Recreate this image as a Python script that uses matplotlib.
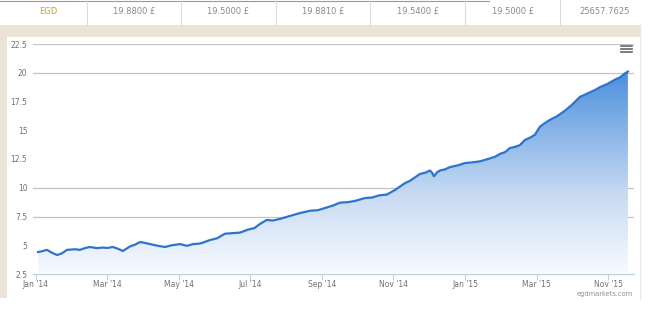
import numpy as np
import matplotlib
matplotlib.use("Agg")
import matplotlib.pyplot as plt
from matplotlib.patches import Rectangle, Polygon
from matplotlib.lines import Line2D
from matplotlib.colors import LinearSegmentedColormap

# ---------------- data ----------------
# x position in months since 1 Jan 2014
months = [0.07, 0.21, 0.32, 0.46, 0.60, 0.74, 0.88, 1.10, 1.24, 1.38, 1.52, 1.72,
          1.89, 2.00, 2.16, 2.30, 2.44, 2.64, 2.78, 2.92, 3.06, 3.20, 3.42, 3.62,
          3.81, 4.04, 4.23, 4.40, 4.60, 4.74, 4.87, 5.07, 5.29, 5.49, 5.71, 5.93,
          6.12, 6.27, 6.46, 6.63, 6.84, 7.11, 7.39, 7.67, 7.89, 8.09, 8.31, 8.50,
          8.73, 8.92, 9.20, 9.40, 9.62, 9.81, 10.04, 10.18, 10.32, 10.46, 10.60,
          10.74, 10.88, 11.02, 11.08, 11.13, 11.22, 11.30, 11.44, 11.58, 11.80,
          12.00, 12.19, 12.42, 12.64, 12.84, 12.98, 13.12, 13.25, 13.39, 13.53,
          13.67, 13.81, 13.95, 14.09, 14.22, 14.37, 14.56, 14.79, 14.98, 15.21,
          15.35, 15.49, 15.63, 15.77, 15.96, 16.19, 16.33, 16.47, 16.55]
prices = [4.41, 4.50, 4.60, 4.35, 4.15, 4.30, 4.60, 4.65, 4.60, 4.75, 4.85, 4.75,
          4.80, 4.76, 4.85, 4.70, 4.50, 4.90, 5.05, 5.28, 5.20, 5.10, 4.95, 4.85,
          5.00, 5.10, 4.95, 5.10, 5.15, 5.30, 5.45, 5.60, 6.00, 6.05, 6.10, 6.35,
          6.50, 6.85, 7.20, 7.15, 7.30, 7.55, 7.80, 8.00, 8.05, 8.24, 8.45, 8.70,
          8.75, 8.85, 9.10, 9.15, 9.35, 9.40, 9.80, 10.10, 10.40, 10.60, 10.90,
          11.20, 11.30, 11.50, 11.30, 11.00, 11.35, 11.50, 11.60, 11.80, 11.95,
          12.15, 12.20, 12.30, 12.50, 12.70, 12.95, 13.10, 13.45, 13.55, 13.70,
          14.15, 14.35, 14.60, 15.30, 15.60, 15.90, 16.20, 16.70, 17.20, 17.90,
          18.10, 18.30, 18.50, 18.75, 19.00, 19.40, 19.60, 19.95, 20.10]

x_tick_pos = [0, 2, 4, 6, 8, 10, 12, 14, 16]
x_tick_labels = ["Jan '14", "Mar '14", "May '14", "Jul '14", "Sep '14",
                 "Nov '14", "Jan '15", "Mar '15", "Nov '15"]
y_ticks = [2.5, 5, 7.5, 10, 12.5, 15, 17.5, 20, 22.5]
y_tick_labels = ["2.5", "5", "7.5", "10", "12.5", "15", "17.5", "20", "22.5"]
grid_levels = [7.5, 10, 20, 22.5]

header_cells = ["EGD", "19.8800 £", "19.5000 £", "19.8810 £", "19.5400 £",
                "19.5000 £", "25657.7625"]

# ---------------- figure ----------------
W, H = 653, 336
fig = plt.figure(figsize=(W / 100, H / 100), dpi=100)
fig.patch.set_facecolor("white")


def fx(px):
    return px / W


def fy(py):
    return 1 - py / H


def rect(x0, y0, x1, y1, color, z=0):
    fig.add_artist(Rectangle((fx(x0), fy(y1)), (x1 - x0) / W, (y1 - y0) / H,
                             transform=fig.transFigure, facecolor=color,
                             edgecolor="none", zorder=z))


def fline(xs, ys, color, lw=1.0, z=1):
    fig.add_artist(Line2D([fx(v) for v in xs], [fy(v) for v in ys],
                          transform=fig.transFigure, color=color, lw=lw, zorder=z))


beige = "#ebe3d7"
rect(0, 25, 640, 37, beige)
rect(0, 25, 7, 298, beige)
fline([639.5, 639.5], [25, 298], "#e6e6e6", 0.8)
fline([0, 489], [0.5, 0.5], "#9a9a9a", 0.8)

# header row
sep_x = [87, 181, 276, 370, 465, 560]
for sx in sep_x:
    fline([sx, sx], [0, 25], "#dcdcdc", 0.8)
cell_x = [48, 134, 228, 323, 418, 513, 605]
for i, (cx, txt) in enumerate(zip(cell_x, header_cells)):
    fig.text(fx(cx), fy(12), txt, ha="center", va="center", fontsize=6,
             color="#c9a619" if i == 0 else "#8a8a8a")

# ---------------- axes ----------------
ax = fig.add_axes([fx(33), fy(274), (634 - 33) / W, (274 - 44) / H])
ax.set_facecolor("none")
ax.set_xlim(-0.07, 16.72)
ax.set_ylim(2.5, 22.5)
for s in ax.spines.values():
    s.set_visible(False)

for lev in grid_levels:
    ax.axhline(lev, color="#c4c4c4", lw=0.9, zorder=1)
ax.axhline(2.5, color="#c0d0e0", lw=1.0, zorder=1, clip_on=False)

# gradient fill under the curve
cmap = LinearSegmentedColormap.from_list(
    "g", ["#f7faff", "#c9dcf3", "#7eaee6", "#2f7ed8"])
grad = np.linspace(0, 1, 256).reshape(-1, 1)
im = ax.imshow(grad, aspect="auto", cmap=cmap, origin="lower",
               extent=[-0.07, 16.72, 2.5, 22.5], zorder=2)
verts = [(months[0], 2.5)] + list(zip(months, prices)) + [(months[-1], 2.5)]
poly = Polygon(verts, closed=True, facecolor="none", edgecolor="none",
               transform=ax.transData)
ax.add_patch(poly)
im.set_clip_path(poly)

ax.plot(months, prices, color="#2f74cc", lw=1.6, zorder=3,
        solid_joinstyle="round")

ax.set_xticks(x_tick_pos)
ax.set_xticklabels(x_tick_labels)
ax.set_yticks(y_ticks)
ax.set_yticklabels(y_tick_labels)
ax.tick_params(axis="x", length=4, width=0.8, color="#c0d0e0",
               labelsize=5.5, labelcolor="#707070", pad=0.5)
ax.tick_params(axis="y", length=0, labelsize=5.5, labelcolor="#707070", pad=4)

# hamburger menu icon
for yy in [46, 49, 52]:
    fline([621, 632], [yy, yy], "#666666", 1.2, z=5)

fig.text(fx(633), fy(294), "egdmarkets.com", ha="right", va="center",
         fontsize=4.8, color="#909090")

fig.savefig("out.png", dpi=100, facecolor=fig.get_facecolor())
